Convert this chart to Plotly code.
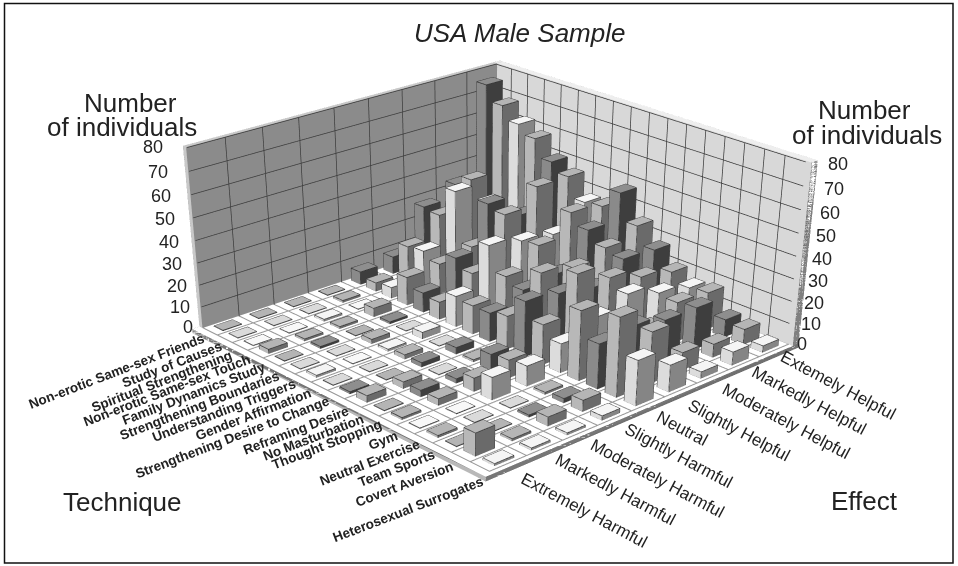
import plotly.graph_objects as go

techniques = ["Non-erotic Same-sex Friends", "Study of Causes", "Spiritual Strengthening", "Non-erotic Same-sex Touch",
              "Family Dynamics Study", "Strengthening Boundaries", "Understanding Triggers", "Gender Affirmation",
              "Strengthening Desire to Change", "Reframing Desire", "No Masturbation", "Thought Stopping", "Gym",
              "Neutral Exercise", "Team Sports", "Covert Aversion", "Heterosexual Surrogates"]
effects = ["Extremely Harmful", "Markedly Harmful", "Moderately Harmful", "Slightly Harmful", "Neutral",
           "Slightly Helpful", "Moderately Helpful", "Markedly Helpful", "Extemely Helpful"]
z_ticks = [0, 10, 20, 30, 40, 50, 60, 70, 80]
values = [
    [0, 0, 0, 0, 6, 8, 27, 33, 75],
    [0, 0, 0, 1, 4, 16, 26, 38, 68],
    [0, 0, 1, 0, 5, 17, 40, 30, 62],
    [2, 1, 1, 4, 13, 14, 17, 14, 58],
    [0, 1, 0, 1, 9, 20, 40, 30, 50],
    [0, 0, 2, 0, 8, 16, 38, 46, 46],
    [1, 0, 1, 3, 14, 32, 29, 27, 37],
    [0, 0, 2, 0, 13, 21, 30, 40, 38],
    [1, 0, 2, 3, 13, 18, 20, 35, 47],
    [3, 3, 0, 1, 15, 29, 26, 30, 35],
    [0, 3, 2, 7, 25, 23, 20, 28, 27],
    [1, 3, 6, 8, 18, 35, 28, 23, 20],
    [0, 0, 10, 9, 13, 19, 24, 19, 16],
    [1, 0, 0, 1, 31, 12, 12, 18, 17],
    [0, 0, 1, 2, 20, 22, 19, 19, 8],
    [10, 1, 4, 5, 35, 23, 8, 6, 7],
    [1, 1, 1, 2, 20, 12, 3, 6, 3],
]
shade_of_technique = ["D", "M", "W", "M", "D", "M", "W", "M", "D", "M", "D", "M", "W", "M", "D", "M", "W"]
palette = {"D": ("#8e8e8e", "#8a8a8a", "#3e3e3e"),
           "M": ("#b5b5b5", "#b8b8b8", "#6a6a6a"),
           "W": ("#f5f5f5", "#dcdcdc", "#858585")}
zero_top = {"D": "#b4b4b4", "M": "#dadada", "W": "#f8f8f8"}

W, H = 958, 1600
NT, NE = len(techniques), len(effects)
XR, YR, ZR = (-0.2, NT + 0.2), (-0.2, NE + 0.2), (-2.0, 82.0)

def add_box(store, x0, x1, y0, y1, z0, z1, top, ymin_c, xmax_c, other="#777777"):
    vx, vy, vz, i, j, k, fc = store
    n = len(vx)
    vx += [x0, x1, x1, x0, x0, x1, x1, x0]
    vy += [y0, y0, y1, y1, y0, y0, y1, y1]
    vz += [z0, z0, z0, z0, z1, z1, z1, z1]
    quads = [((4, 5, 6, 7), top), ((0, 1, 5, 4), ymin_c), ((1, 2, 6, 5), xmax_c),
             ((2, 3, 7, 6), other), ((3, 0, 4, 7), other), ((0, 1, 2, 3), other)]
    for (a, b, c, d), col in quads:
        i += [n + a, n + a]; j += [n + b, n + c]; k += [n + c, n + d]; fc += [col, col]

def add_edges(lines, x0, x1, y0, y1, z0, z1):
    xs, ys, zs = lines
    xs += [x0, x1, x1, x0, x0, None]; ys += [y0, y0, y1, y1, y0, None]; zs += [z1, z1, z1, z1, z1, None]
    for (a, b) in [(x0, y0), (x1, y0), (x1, y1)]:
        xs += [a, a, None]; ys += [b, b, None]; zs += [z0, z1, None]
    xs += [x0, x1, x1, None]; ys += [y0, y0, y1, None]; zs += [z0, z0, z0, None]

frame = ([], [], [], [], [], [], [])
add_box(frame, XR[0], XR[1], YR[0], YR[1], ZR[0], 0, "#ffffff", "#b8b8b8", "#707070")
add_box(frame, XR[0], 0, 0, YR[1], 0, 80, "#c8c8c8", "#c8c8c8", "#8b8b8b")
add_box(frame, XR[0], XR[1], NE, YR[1], 0, 80, "#eeeeee", "#d8d8d8", "#808080")

bars = ([], [], [], [], [], [], [])
edge = ([], [], [])
hx, hy = 0.3, 0.26
for t in range(NT):
    cls = shade_of_technique[t]
    top, left, right = palette[cls]
    for e in range(NE):
        v = values[t][e]
        h = v if v > 0 else 0.3
        cx, cy = t + 0.5, e + 0.5
        add_box(bars, cx - hx, cx + hx, cy - hy, cy + hy, 0, h, top if v > 0 else zero_top[cls], left, right)
        add_edges(edge, cx - hx, cx + hx, cy - hy, cy + hy, 0, h)

light = dict(ambient=1, diffuse=0, specular=0, fresnel=0, roughness=1)
fig = go.Figure()
for store in (frame, bars):
    vx, vy, vz, i, j, k, fc = store
    fig.add_trace(go.Mesh3d(x=vx, y=vy, z=vz, i=i, j=j, k=k, facecolor=fc, flatshading=True,
                            lighting=light, hoverinfo="skip", showscale=False))
fig.add_trace(go.Scatter3d(x=edge[0], y=edge[1], z=edge[2], mode="lines",
                           line=dict(color="#333333", width=1.5), hoverinfo="skip", showlegend=False))

off = 0.06
gx, gy, gz = [], [], []
for zv in z_ticks[1:]:
    gx += [off, off, None, off, NT, None]; gy += [0, NE - off, None, NE - off, NE - off, None]; gz += [zv, zv, None, zv, zv, None]
for e in range(1, NE):
    gx += [off, off, None]; gy += [e, e, None]; gz += [0, 80, None]
for t in range(1, NT):
    gx += [t, t, None]; gy += [NE - off, NE - off, None]; gz += [0, 80, None]
fig.add_trace(go.Scatter3d(x=gx, y=gy, z=gz, mode="lines", line=dict(color="#3c3c3c", width=1.5),
                           hoverinfo="skip", showlegend=False))
fx, fy, fz = [], [], []
for e in range(0, NE + 1):
    fx += [0, NT, None]; fy += [e, e, None]; fz += [0.08, 0.08, None]
for t in range(0, NT + 1):
    fx += [t, t, None]; fy += [0, NE, None]; fz += [0.08, 0.08, None]
fig.add_trace(go.Scatter3d(x=fx, y=fy, z=fz, mode="lines", line=dict(color="#9a9a9a", width=3),
                           hoverinfo="skip", showlegend=False))
# smooth thick end of the right wall
fig.add_trace(go.Scatter3d(x=[NT + 0.1, NT + 0.1], y=[NE + 0.05, NE + 0.05], z=[0, 80], mode="lines",
                           line=dict(color="#808080", width=4), hoverinfo="skip", showlegend=False))

axis = dict(visible=False, showbackground=False, showgrid=False, zeroline=False, showspikes=False)
ann = []
def label(text, px, py, size, angle=0, bold=False, italic=False):
    txt = f"<b>{text}</b>" if bold else (f"<i>{text}</i>" if italic else text)
    ann.append(dict(text=txt, x=px / W, y=1 - py / H, xref="paper", yref="paper", xanchor="center", yanchor="middle",
                    showarrow=False, textangle=angle, font=dict(family="Liberation Sans, Arial, sans-serif", size=size, color="#222222")))

tech_pos = [(116, 371), (172, 364), (161, 381), (167, 390), (194, 394), (200, 406), (224, 411), (253, 414), (232, 437),
            (296, 430), (313, 437), (327, 445), (383, 440), (370, 463), (396, 468), (404, 485), (408, 509)]
eff_pos = [(584, 511), (615, 489), (657, 479), (678, 456), (682, 428), (739, 430), (786, 422), (809, 400), (838, 386)]
left_z = [(188, 327), (180, 307), (177, 286), (172, 264), (169, 242), (165, 219), (161, 196), (158, 172), (153, 147)]
right_z = [(802, 344), (811, 324), (814, 303), (818, 281), (822, 259), (826, 236), (830, 213), (834, 189), (838, 164)]
for name, (px, py) in zip(techniques, tech_pos):
    label(name, px, py, 13.5, -21, bold=True)
for name, (px, py) in zip(effects, eff_pos):
    label(name, px, py, 17, 28)
for tick, (px, py) in zip(z_ticks, left_z):
    label(str(tick), px, py, 18)
for tick, (px, py) in zip(z_ticks, right_z):
    label(str(tick), px, py, 18)
label("USA Male Sample", 519, 33, 26, italic=True)
label("Number", 130, 103, 26); label("of individuals", 122, 127, 26)
label("Number", 864, 110, 26); label("of individuals", 867, 135, 26)
label("Technique", 122, 502, 26); label("Effect", 864, 501, 26)

fig.update_layout(
    width=W, height=H, margin=dict(l=0, r=0, t=0, b=0), paper_bgcolor="white", showlegend=False,
    annotations=ann,
    shapes=[dict(type="rect", xref="paper", yref="paper", x0=4.5 / W, x1=953 / W, y0=1 - 563 / H, y1=1 - 3.5 / H,
                 line=dict(color="#111111", width=1.5))],
    scene=dict(domain=dict(x=[0, 1], y=[0, 1]), aspectmode="manual", aspectratio=dict(x=0.6962, y=0.6746, z=0.3045),
               xaxis=dict(range=list(XR), **axis), yaxis=dict(range=list(YR), **axis), zaxis=dict(range=list(ZR), **axis),
               camera=dict(eye=dict(x=2.132, y=-1.9867, z=1.1042), center=dict(x=0.3925, y=-0.3909, z=-0.6559),
                           up=dict(x=0, y=0, z=1), projection=dict(type="perspective"))),
)
fig.write_html("out.html", config=dict(displayModeBar=False),
               post_script="document.documentElement.style.overflow='hidden';document.body.style.overflow='hidden';document.body.style.margin='0';")
